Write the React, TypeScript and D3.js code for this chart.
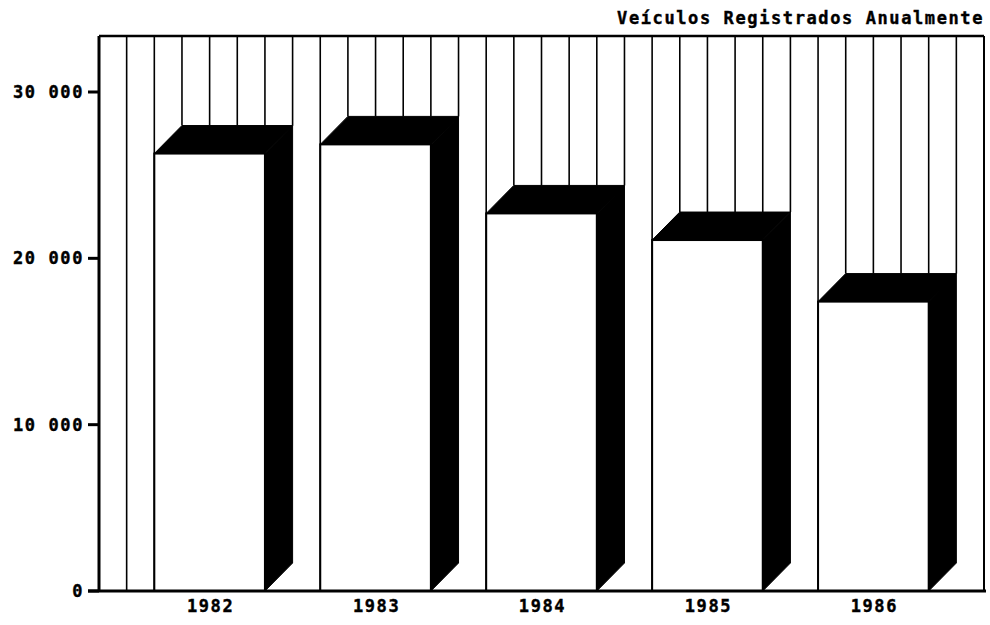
import React from 'react';
import * as d3 from 'd3';

const years = ['1982', '1983', '1984', '1985', '1986'];
const registrations = [26300, 26850, 22700, 21100, 17400];
const yTicks = [0, 10000, 20000, 30000];
const title = 'Veículos Registrados Anualmente';

const fmt = (v: number) => (v === 0 ? '0' : d3.format(',')(v).replace(/,/g, ' '));

export default function App() {
  const W = 990, H = 625;
  const left = 99, right = 984, top = 36, bottom = 591;
  const units = 32;
  const u = d3.scaleLinear().domain([0, units]).range([left, right]);
  const unit = u(1) - u(0);
  const x = d3.scaleBand<string>().domain(years).range([u(2), u(31)]).paddingInner(1 / 6).paddingOuter(0);
  const y = d3.scaleLinear().domain([0, 30000]).range([bottom, 92]);
  const dx = unit;
  const dy = 28;
  const frontW = x.bandwidth() - dx;
  const bars = years.map((yr, i) => {
    const x0 = x(yr)!;
    return { yr, x0, x1: x0 + frontW, yt: y(registrations[i]) };
  });
  const gridXs = d3.range(1, units).map((k) => u(k));
  const font = "'DejaVu Sans Mono', monospace";
  const textProps = {
    fontFamily: font,
    fontWeight: 'bold' as const,
    fontSize: 17,
    letterSpacing: 1.6,
    fill: '#000',
    stroke: '#000',
    strokeWidth: 0.4,
  };

  return (
    <svg width={W} height={H} style={{ position: 'absolute', left: 0, top: 0, background: '#fff' }}>
      <rect x={0} y={0} width={W} height={H} fill="#fff" />
      {gridXs.map((gx, i) => {
        const b = bars.find((b) => gx > b.x0 + 1 && gx <= b.x1 + dx + 1);
        const yb = b ? b.yt - dy : bottom;
        return <line key={i} x1={gx} x2={gx} y1={top} y2={yb} stroke="#000" strokeWidth={1.6} />;
      })}
      {bars.map((b) => (
        <g key={b.yr}>
          <rect x={b.x0} y={b.yt} width={b.x1 - b.x0} height={bottom - b.yt} fill="#fff" stroke="#000" strokeWidth={2} />
          <path
            d={`M${b.x0},${b.yt}L${b.x0 + dx},${b.yt - dy}L${b.x1 + dx},${b.yt - dy}L${b.x1},${b.yt}Z`}
            fill="#000"
            stroke="#000"
            strokeWidth={1}
          />
          <path
            d={`M${b.x1},${b.yt}L${b.x1 + dx},${b.yt - dy}L${b.x1 + dx},${bottom - dy}L${b.x1},${bottom}Z`}
            fill="#000"
            stroke="#000"
            strokeWidth={1}
          />
        </g>
      ))}
      <line x1={left} x2={right} y1={top} y2={top} stroke="#000" strokeWidth={2.5} />
      <line x1={left} x2={left} y1={top} y2={bottom} stroke="#000" strokeWidth={3} />
      <line x1={right} x2={right} y1={top} y2={bottom} stroke="#000" strokeWidth={2} />
      <line x1={88} x2={right + 2} y1={bottom} y2={bottom} stroke="#000" strokeWidth={3} />
      {yTicks.map((t) => (
        <g key={t}>
          <line x1={88} x2={left} y1={y(t)} y2={y(t)} stroke="#000" strokeWidth={3} />
          <text x={84} y={y(t)} dy="0.36em" textAnchor="end" {...textProps}>
            {fmt(t)}
          </text>
        </g>
      ))}
      {bars.map((b) => (
        <text key={b.yr} x={(b.x0 + b.x1) / 2 + 1} y={612} textAnchor="middle" {...textProps}>
          {b.yr}
        </text>
      ))}
      <text x={984} y={24} textAnchor="end" {...textProps}>
        {title}
      </text>
    </svg>
  );
}
